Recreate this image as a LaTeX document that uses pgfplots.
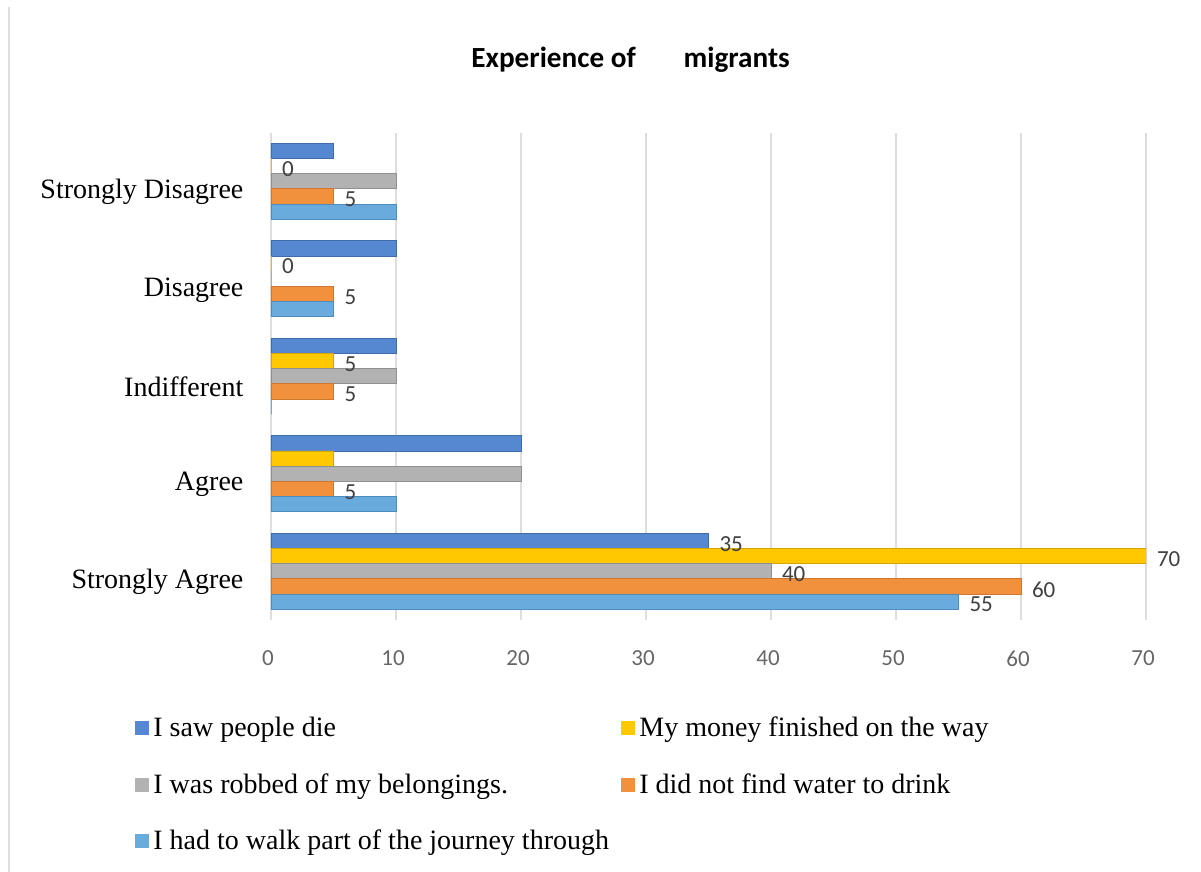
\documentclass[border=0pt]{standalone}
\usepackage{fontspec}
\setmainfont{Liberation Serif}
\newfontfamily\carlito{Carlito}
\usepackage{pgfplots}
\pgfplotsset{compat=1.18}
\definecolor{cdie}{HTML}{5588D0}
\definecolor{cdieD}{HTML}{416CAB}
\definecolor{cmoney}{HTML}{FFC800}
\definecolor{cmoneyD}{HTML}{D6A600}
\definecolor{crob}{HTML}{B2B2B2}
\definecolor{crobD}{HTML}{909090}
\definecolor{cwater}{HTML}{F2913D}
\definecolor{cwaterD}{HTML}{CF7630}
\definecolor{cwalk}{HTML}{6AABDE}
\definecolor{cwalkD}{HTML}{4F8BBB}
\definecolor{lbl}{HTML}{404040}
\begin{document}
\begin{tikzpicture}
\path[use as bounding box] (0,0) rectangle (600.5pt,-436pt);
\draw[black!13, line width=1pt] (4.5pt,-3.5pt) -- (4.5pt,-436pt);
\begin{axis}[
  at={(135.5pt,-310pt)}, anchor=south west,
  width=437.5pt, height=243.75pt, scale only axis,
  xbar, bar width=7.6pt,
  xmin=0, xmax=70, ymin=-0.5, ymax=4.5,
  xtick={0,10,...,70}, ytick={0,1,2,3,4},
  yticklabels={Strongly Agree, Agree, Indifferent, Disagree, Strongly Disagree},
  axis line style={draw=none}, major tick style={draw=none},
  xmajorgrids, grid style={black!13, line width=1pt},
  ymajorgrids=false,
  xticklabel style={font=\carlito\fontsize{11.5}{13}\selectfont, text=black!60, yshift=-12pt, xshift=-1.5pt},
  /pgf/number format/assume math mode=true,
  yticklabel style={font=\fontsize{14}{16}\selectfont, anchor=east, xshift=-6pt, yshift=-5.5pt},
  title={Experience of\hspace{24pt}migrants},
  title style={font=\carlito\bfseries\fontsize{14.6}{17}\selectfont, at={(0.411,1.125)}, anchor=center},
  point meta=explicit symbolic,
  nodes near coords={\pgfplotspointmeta},
  nodes near coords style={font=\carlito\fontsize{11.5}{13}\selectfont, text=lbl, anchor=west, xshift=2pt, yshift=-1.5pt},
  legend columns=2,
  legend cell align=left,
  legend image code/.code={\fill[#1, draw=none] (0pt,-3.5pt) rectangle (7pt,3.5pt);},
  legend style={draw=none, at={(-0.1623,-0.182)}, anchor=north west,
    font=\fontsize{14}{16}\selectfont, row sep=12.75pt,
    /tikz/every even column/.append style={column sep=0pt}},
]
\addplot[fill=cdie, draw=cdieD, line width=0.4pt, bar shift=15.2pt] coordinates
  {(35,0) [35] (20,1) [] (10,2) [] (10,3) [] (5,4) []};
\addplot[fill=cmoney, draw=cmoneyD, line width=0.4pt, bar shift=7.6pt] coordinates
  {(70,0) [70] (5,1) [] (5,2) [5] (0,3) [0] (0,4) [0]};
\addplot[fill=crob, draw=crobD, line width=0.4pt, bar shift=0pt] coordinates
  {(40,0) [40] (20,1) [] (10,2) [] (0,3) [] (10,4) []};
\addplot[fill=cwater, draw=cwaterD, line width=0.4pt, bar shift=-7.6pt] coordinates
  {(60,0) [60] (5,1) [5] (5,2) [5] (5,3) [5] (5,4) [5]};
\addplot[fill=cwalk, draw=cwalkD, line width=0.4pt, bar shift=-15.2pt] coordinates
  {(55,0) [55] (10,1) [] (0,2) [] (5,3) [] (10,4) []};
\legend{\makebox[232pt][l]{I saw people die}, My money finished on the way,
  \makebox[232pt][l]{I was robbed of my belongings.}, I did not find water to drink,
  \makebox[232pt][l]{I had to walk part of the journey through}}
\end{axis}
\end{tikzpicture}
\end{document}
